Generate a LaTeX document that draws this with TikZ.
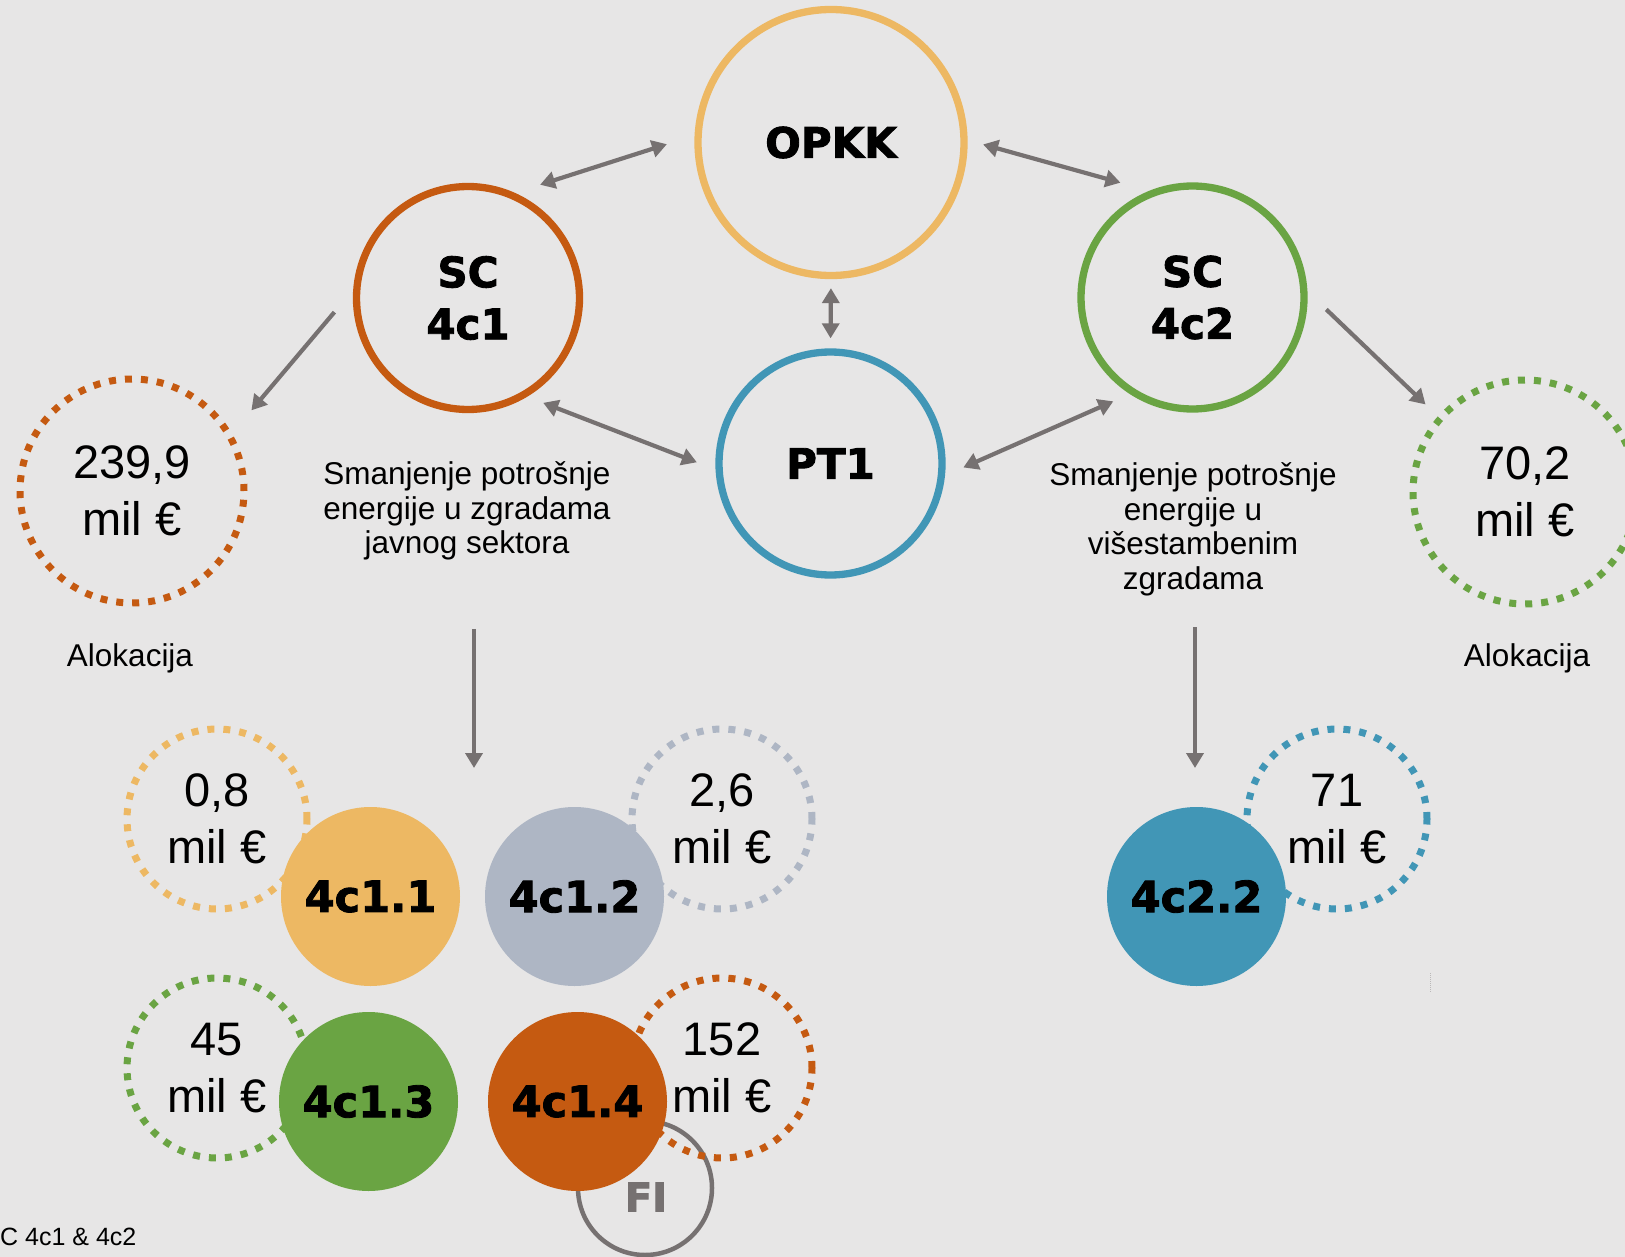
\documentclass[tikz,border=0pt]{standalone}
\usepackage{fontspec}
\setmainfont{Liberation Sans}
\newfontfamily\heavyfont{DejaVu Sans Bold}[FakeBold=2]
\usetikzlibrary{arrows.meta}

\begin{document}
\begin{tikzpicture}[x=1pt,y=-1pt,
    ring/.style={circle, line width=7.3pt, inner sep=0pt, align=center,
        font=\heavyfont\fontsize{42}{52}\selectfont},
    alloc/.style={circle, line width=7pt, dash pattern=on 7pt off 9pt, inner sep=0pt,
        minimum size=224pt, align=center, font=\fontsize{47}{57}\selectfont},
    share/.style={alloc, minimum size=180pt},
    disc/.style={circle, inner sep=0pt, minimum size=179pt,
        font=\heavyfont\fontsize{43}{52}\selectfont},
    caption/.style={align=center, font=\fontsize{31.5}{34.5}\selectfont},
    arr/.style={draw=clArrow, line width=4.2pt, -{Triangle[length=15pt,width=17pt]}},
    dbl/.style={arr, {Triangle[length=15pt,width=17pt]}-{Triangle[length=15pt,width=17pt]}}]
            \definecolor{clBg}{HTML}{E7E6E6}
            \definecolor{clYe}{HTML}{EDB863}
            \definecolor{clOr}{HTML}{C55A11}
            \definecolor{clGr}{HTML}{6AA443}
            \definecolor{clBl}{HTML}{4196B6}
            \definecolor{clGb}{HTML}{AEB6C4}
            \definecolor{clArrow}{HTML}{767171}
            \useasboundingbox (0,0) rectangle (1625,1257);
            \clip (0,0) rectangle (1625,1257);
            \fill[clBg] (0,0) rectangle (1625,1257);
            \node[circle, draw=clArrow, line width=4.5pt, minimum size=134pt] (fi) at (645,1188) {};
            \node[share, draw=clYe] (s11) at (217,819) {0,8\\mil €};
            \node[share, draw=clGb] (s12) at (722,819) {2,6\\mil €};
            \node[share, draw=clGr] (s13) at (217,1068) {45\\mil €};
            \node[share, draw=clOr] (s14) at (722,1068) {152\\mil €};
            \node[share, draw=clBl] (s22) at (1337,819) {71\\mil €};
            \node[disc, fill=clYe] (p11) at (370.5,896.5) {4c1.1};
            \node[disc, fill=clGb] (p12) at (574.5,896.5) {4c1.2};
            \node[disc, fill=clGr] (p13) at (368.5,1101.5) {4c1.3};
            \node[disc, fill=clOr] (p14) at (577.5,1101.5) {4c1.4};
            \node[disc, fill=clBl] (p22) at (1196.5,896.5) {4c2.2};
            \node[text=clArrow, font=\heavyfont\fontsize{40}{48}\selectfont] (filbl) at (646,1197) {FI};
            \node[ring, draw=clYe, minimum size=266pt] (opkk) at (831,142.5) {OPKK};
            \node[ring, draw=clOr, minimum size=223pt] (sc1) at (468,298) {SC\\4c1};
            \node[ring, draw=clGr, minimum size=223pt] (sc2) at (1192.5,297.5) {SC\\4c2};
            \node[ring, draw=clBl, minimum size=223pt] (pt1) at (830.5,463.5) {PT1};
            \node[alloc, draw=clOr] (alloc1) at (132,491) {239,9\\mil €};
            \node[alloc, draw=clGr] (alloc2) at (1525,492) {70,2\\mil €};
            \node[caption, anchor=base] (lbl1) at (130,666) {Alokacija};
            \node[caption, anchor=base] (lbl2) at (1527,666) {Alokacija};
            \node[caption] (goal1) at (467,511) {Smanjenje potrošnje\\energije u zgradama\\javnog sektora};
            \node[caption] (goal2) at (1193,529.5) {Smanjenje potrošnje\\energije u\\višestambenim\\zgradama};
            \node[anchor=base west, inner sep=0pt, font=\fontsize{25}{30}\selectfont] (foot) at (0,1245) {C 4c1 \& 4c2};
            \coordinate (d1) at (474,768);
            \coordinate (d2) at (1195,768);
            \draw[dbl, shorten <=26.5pt, shorten >=29pt] (sc1.66) -- (opkk.177.4);
            \draw[dbl, shorten <=16pt, shorten >=30pt] (opkk.1.2) -- (sc2.112.4);
            \draw[dbl, shorten <=9pt, shorten >=10pt] (opkk.south) -- (pt1.north);
            \draw[dbl, shorten <=17pt, shorten >=20pt] (sc1.-59.2) -- (pt1.183.4);
            \draw[dbl, shorten <=20pt, shorten >=18pt] (pt1.-6.2) -- (sc2.237.9);
            \draw[arr, shorten <=29pt, shorten >=30pt] (sc1.176.4) -- (alloc1.30.8);
            \draw[arr, shorten <=26pt, shorten >=17pt] (sc2.3.3) -- (alloc2.139.4);
            \draw[arr, shorten <=65pt] (goal1.south -| d1) -- (d1);
            \draw[arr, shorten <=27.5pt] (goal2.south -| d2) -- (d2);
            \draw[clArrow!50, line width=0.8pt, dash pattern=on 1pt off 1pt] (1430,973) -- (1430,992);
        \end{tikzpicture}
\end{document}
